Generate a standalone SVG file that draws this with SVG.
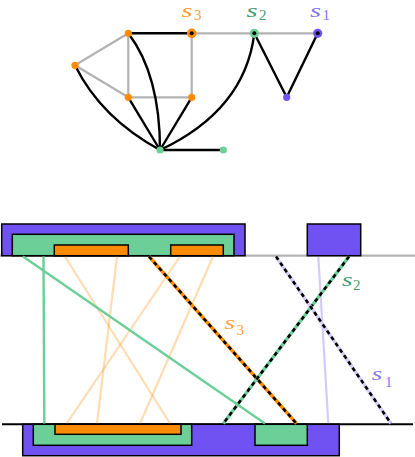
<svg xmlns="http://www.w3.org/2000/svg" width="415" height="457" viewBox="0 0 415 457">
<style>
.g{stroke:#b3b3b3;stroke-width:2.2;fill:none}
.k{stroke:#000;stroke-width:2.4;fill:none}
.or{fill:#ff8c00}
.gr{fill:#6ccf98}
.pu{fill:#7052f2}
.box{stroke:#000;stroke-width:1.5}
.lo{stroke:#ff8c00;stroke-opacity:0.3;stroke-width:2.2;fill:none}
.lg{stroke:#6ccf98;stroke-width:2.4;fill:none}
.lp{stroke:#7052f2;stroke-opacity:0.3;stroke-width:2.2;fill:none}
.dash{stroke:#000;stroke-width:2.6;stroke-dasharray:4 3.5;fill:none}
</style>
<g id="top-connectors">
<line class="g" x1="191.7" y1="33.3" x2="317.7" y2="33.3"/>
<line class="g" x1="128.3" y1="33.3" x2="75" y2="65.3"/>
<line class="g" x1="75" y1="65.3" x2="128.3" y2="97.3"/>
<line class="g" x1="128.3" y1="33.3" x2="128.3" y2="97.3"/>
<line class="g" x1="128.3" y1="97.3" x2="191.7" y2="97.3"/>
<line class="g" x1="191.7" y1="33.3" x2="191.7" y2="97.3"/>
<line class="k" x1="128.3" y1="33.3" x2="191.7" y2="33.3"/>
<path class="k" d="M128.3,33.3 Q160,75 160,150"/>
<path class="k" d="M75,65.3 Q101,118 160,150"/>
<line class="k" x1="128.3" y1="97.3" x2="160" y2="150"/>
<line class="k" x1="191.7" y1="97.3" x2="160" y2="150"/>
<path class="k" d="M254.3,33.3 Q245,110 160,150"/>
<line class="k" x1="254.3" y1="33.3" x2="286.7" y2="97.3"/>
<line class="k" x1="286.7" y1="97.3" x2="317.7" y2="33.3"/>
<line class="k" x1="160" y1="150" x2="223.3" y2="150"/>
</g>
<g id="n-a"><circle class="or" cx="128.3" cy="33.3" r="3.6"/></g>
<g id="n-left"><circle class="or" cx="75" cy="65.3" r="3.6"/></g>
<g id="n-bl"><circle class="or" cx="128.3" cy="97.3" r="3.6"/></g>
<g id="n-br"><circle class="or" cx="191.7" cy="97.3" r="3.6"/></g>
<g id="n-s3"><circle class="or" cx="191.7" cy="33.3" r="4.8"/><circle cx="191.7" cy="33.3" r="2"/></g>
<g id="n-s2"><circle class="gr" cx="254.3" cy="33.3" r="4.6"/><circle cx="254.3" cy="33.3" r="2"/></g>
<g id="n-s1"><circle class="pu" cx="317.7" cy="33.3" r="4.6"/><circle cx="317.7" cy="33.3" r="2"/></g>
<g id="n-p"><circle class="pu" cx="286.7" cy="97.3" r="3.6"/></g>
<g id="n-hub"><circle class="gr" cx="160" cy="150" r="3.6"/></g>
<g id="n-gr"><circle class="gr" cx="223.3" cy="150" r="3.6"/></g>
<g id="top-labels" font-family="'Liberation Serif', serif">
<text x="181.5" y="17" font-size="19.5" font-style="italic" fill="#ff9a2e" textLength="11" lengthAdjust="spacingAndGlyphs">s</text><text x="194" y="19.5" font-size="15" fill="#ff9a2e">3</text>
<text x="246.5" y="17" font-size="19.5" font-style="italic" fill="#3f9d6c" textLength="11" lengthAdjust="spacingAndGlyphs">s</text><text x="259" y="19.5" font-size="15" fill="#3f9d6c">2</text>
<text x="310" y="17" font-size="19.5" font-style="italic" fill="#8676f2" textLength="11" lengthAdjust="spacingAndGlyphs">s</text><text x="322.5" y="19.5" font-size="15" fill="#8676f2">1</text>
</g>
<g id="bottom-lines">
<line x1="0" y1="255.7" x2="415" y2="255.7" stroke="#b3b3b3" stroke-width="2.2"/>
<line x1="2" y1="424.3" x2="413" y2="424.3" stroke="#000" stroke-width="2"/>
</g>
<g id="top-blocks">
<rect class="pu box" x="1.7" y="224" width="243.3" height="31.7"/>
<rect class="gr box" x="12.3" y="234.3" width="221.7" height="21.4"/>
<rect class="or box" x="54.3" y="245" width="74" height="10.7"/>
<rect class="or box" x="170.7" y="245" width="52.6" height="10.7"/>
<rect class="pu box" x="307.3" y="224" width="53.4" height="31.7"/>
</g>
<g id="bottom-blocks">
<rect class="pu box" x="22.7" y="424.3" width="316.6" height="31.4"/>
<rect class="gr box" x="33.3" y="424.3" width="158.4" height="21"/>
<rect class="or box" x="55" y="424.3" width="126" height="10"/>
<rect class="gr box" x="255" y="424.3" width="52.3" height="21"/>
</g>
<g id="connectors">
<line class="lo" x1="65" y1="256.5" x2="170" y2="423.5"/>
<line class="lo" x1="117" y1="256.5" x2="97" y2="423.5"/>
<line class="lo" x1="180" y1="256.5" x2="66.7" y2="423.5"/>
<line class="lo" x1="213" y1="256.5" x2="140" y2="423.5"/>
<line class="lg" x1="43.5" y1="256.5" x2="44.3" y2="423.5"/>
<line class="lg" x1="23" y1="256.5" x2="265" y2="423.5"/>
<line class="lp" x1="318.3" y1="256.5" x2="328.3" y2="423.5"/>
<line stroke="#ff8c00" stroke-width="3.4" x1="149" y1="256.5" x2="296.5" y2="423.5"/>
<line class="dash" x1="149" y1="256.5" x2="296.5" y2="423.5"/>
<line stroke="#6ccf98" stroke-width="3.4" x1="349" y1="256.5" x2="223.3" y2="423.5"/>
<line class="dash" x1="349" y1="256.5" x2="223.3" y2="423.5"/>
<line stroke="#d4cdfb" stroke-width="3.4" x1="276" y1="256.5" x2="391" y2="423.5"/>
<line class="dash" x1="276" y1="256.5" x2="391" y2="423.5"/>
</g>
<g id="bottom-labels" font-family="'Liberation Serif', serif">
<text x="342" y="285.7" font-size="19.5" font-style="italic" fill="#3f9d6c" textLength="10.5" lengthAdjust="spacingAndGlyphs">s</text><text x="353" y="290" font-size="15" fill="#3f9d6c">2</text>
<text x="224.5" y="329" font-size="19.5" font-style="italic" fill="#ffa040" textLength="10.5" lengthAdjust="spacingAndGlyphs">s</text><text x="236.5" y="335" font-size="15" fill="#ffa040">3</text>
<text x="371.8" y="380.3" font-size="19.5" font-style="italic" fill="#8676f2" textLength="10.5" lengthAdjust="spacingAndGlyphs">s</text><text x="385" y="387" font-size="15" fill="#8676f2">1</text>
</g>
</svg>
